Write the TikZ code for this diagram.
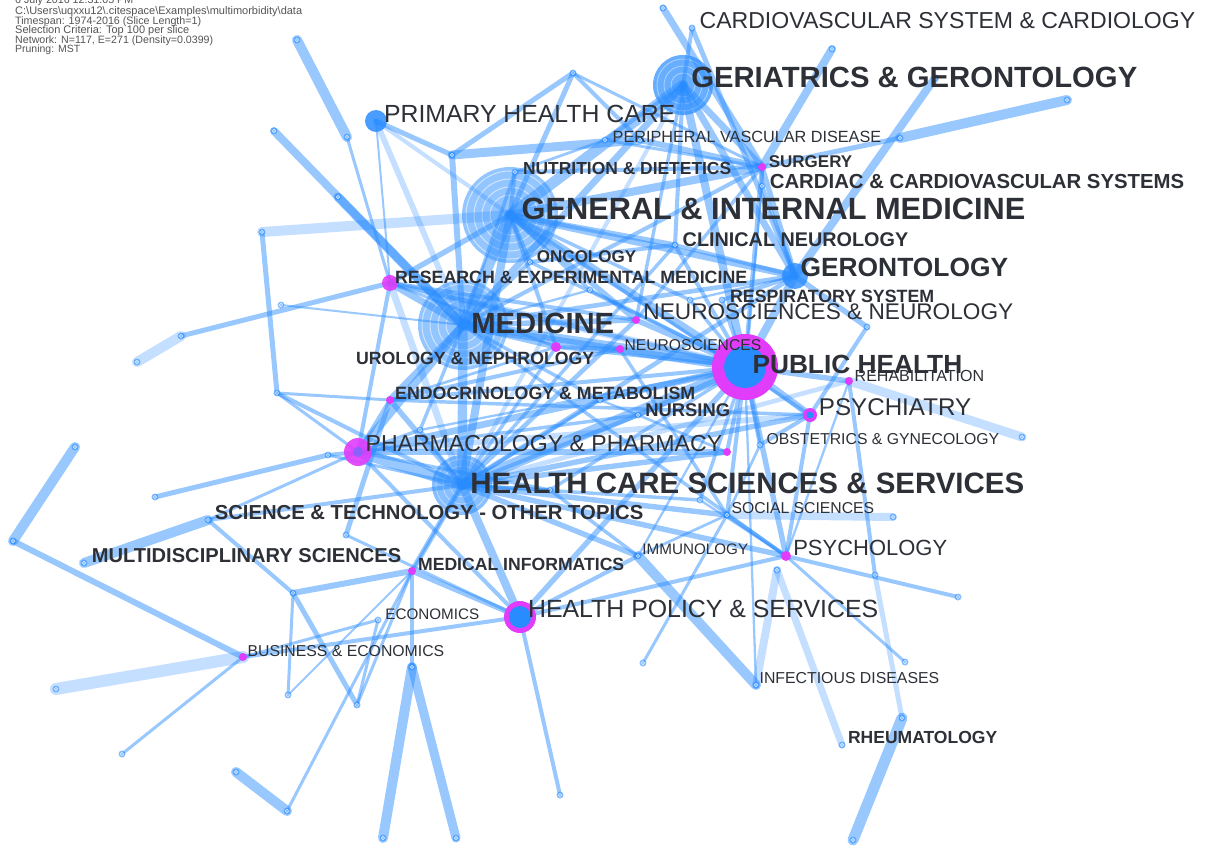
\documentclass[tikz,border=0pt]{standalone}
\usepackage{fontspec}
\setmainfont{Liberation Sans}
\usepackage{graphicx}
\definecolor{eb}{RGB}{40,140,255}
\definecolor{mg}{RGB}{225,60,250}
\definecolor{tx}{RGB}{45,48,54}
\definecolor{hd}{RGB}{85,85,85}
\def\ew{1}
\tikzset{
  edg/.style={draw=eb, line width=\ew*#1, draw opacity=0.47, line cap=round},
  edg/.default=3,
  ledg/.style={draw=eb, line width=\ew*#1, draw opacity=0.27, line cap=round},
  ledg/.default=3,
  lab/.style={anchor=west, inner sep=0pt, text=tx},
  hdr/.style={anchor=west, inner sep=0pt, text=hd},
}
\newcommand\E[3][3]{\draw[edg=#1] (#2) -- (#3);}
\newcommand\F[3][3]{\draw[ledg=#1] (#2) -- (#3);}
\newcommand\Lab[6]{\node[lab] (l#1) at (#2,#3) {\resizebox{#4pt}{!}{#5 #6}};}
\newcommand\Hdr[4]{\node[hdr] (#1) at (15,#2) {\resizebox{#3pt}{!}{#4}};}
\newcommand\Pt[1]{\fill[eb, opacity=0.55] (#1) circle (3.5); \draw[white, opacity=0.8, line width=0.6] (#1) circle (1.6);}
\begin{document}
\begin{tikzpicture}[x=1pt,y=-1pt]
\useasboundingbox (0,0) rectangle (1206,850);
\fill[white] (0,0) rectangle (1206,850);
% ---------- vertices ----------
\coordinate (GER) at (683,85);
\coordinate (GIM) at (510,215);
\coordinate (MED) at (463,325);
\coordinate (HCS) at (462,485);
\coordinate (PH) at (745,367);
\coordinate (HP) at (520,617);
\coordinate (PHA) at (358,452);
\coordinate (PHC) at (376,121);
\coordinate (GERO) at (795,276);
\coordinate (REM) at (390,283);
\coordinate (PSYT) at (810,415);
\coordinate (PSYG) at (786,556);
\coordinate (MI) at (412,571);
\coordinate (BE) at (243,657);
\coordinate (END) at (390,400);
\coordinate (SUR) at (762,167);
\coordinate (NN) at (636,320);
\coordinate (NEU) at (620,349);
\coordinate (URO) at (556,347);
\coordinate (REH) at (849,381);
\coordinate (MX) at (727,452);
\coordinate (SS) at (727,515);
\coordinate (IMM) at (638,556);
\coordinate (INF) at (756,685);
\coordinate (RHE) at (842,745);
\coordinate (SCI) at (208,520);
\coordinate (MUL) at (84,563);
\coordinate (ECO) at (378,620);
\coordinate (ONC) at (530,262);
\coordinate (NUT) at (515,172);
\coordinate (CN) at (675,245);
\coordinate (PVD) at (605,140);
\coordinate (CC) at (762,186);
\coordinate (RS) at (722,300);
\coordinate (OBS) at (760,445);
\coordinate (NUR) at (638,415);
\coordinate (CARD) at (692,28);
\coordinate (p1) at (297,40);
\coordinate (p2) at (347,137);
\coordinate (p3) at (274,131);
\coordinate (p4) at (338,197);
\coordinate (p5) at (262,232);
\coordinate (p6) at (277,393);
\coordinate (p7) at (137,362);
\coordinate (p8) at (181,336);
\coordinate (p9) at (281,305);
\coordinate (p10) at (75,447);
\coordinate (p11) at (13,541);
\coordinate (p12) at (155,497);
\coordinate (p13) at (328,455);
\coordinate (p14) at (293,593);
\coordinate (p15) at (288,695);
\coordinate (p16) at (357,705);
\coordinate (p17) at (56,689);
\coordinate (p18) at (122,754);
\coordinate (p19) at (236,772);
\coordinate (p20) at (287,811);
\coordinate (p21) at (412,667);
\coordinate (p22) at (383,838);
\coordinate (p23) at (456,838);
\coordinate (p24) at (560,795);
\coordinate (p25) at (643,663);
\coordinate (p26) at (958,597);
\coordinate (p27) at (905,662);
\coordinate (p28) at (777,570);
\coordinate (p29) at (902,718);
\coordinate (p30) at (853,840);
\coordinate (p31) at (893,517);
\coordinate (p31b) at (875,575);
\coordinate (p32) at (1022,437);
\coordinate (p33) at (1067,100);
\coordinate (dd) at (900,138);
\coordinate (p34) at (832,49);
\coordinate (p35) at (935,78);
\coordinate (p36) at (663,8);
\coordinate (aa) at (452,155);
\coordinate (bb) at (573,73);
\coordinate (q1) at (640,140);
\coordinate (n867) at (867,327);
\coordinate (p38) at (346,535);
\coordinate (c1) at (550,490);
\coordinate (c2) at (600,400);
\coordinate (c3) at (690,300);
\coordinate (c4) at (420,430);
\coordinate (c5) at (700,500);
\coordinate (c6) at (590,290);
% ---------- hubs (behind) ----------
\fill[eb, opacity=0.5] (GIM) circle (48);
\foreach \r in {44,36,28,20} \draw[white, opacity=0.55, line width=1] (GIM) circle (\r);
\fill[eb, opacity=0.5] (MED) circle (45);
\foreach \r in {41,33,25,17} \draw[white, opacity=0.55, line width=1] (MED) circle (\r);
\fill[eb, opacity=0.7] (GER) circle (30);
\foreach \r in {26,19,12} \draw[white, opacity=0.45, line width=0.8] (GER) circle (\r);
\fill[eb, opacity=0.55] (HCS) circle (30);
\foreach \r in {26,19,12} \draw[white, opacity=0.45, line width=0.8] (HCS) circle (\r);
% ---------- peripheral edges ----------
\E[10]{p1}{p2}
\E[3]{p2}{REM}
\E[8]{p3}{MED}
\E[9]{p4}{MED}
\F[10]{p5}{GIM}
\E[5]{p5}{p6}
\F[10]{p7}{p8}
\E[5]{p8}{REM}
\E[2]{p9}{MED}
\E[3]{p6}{END}
\E[3]{p6}{PHA}
\E[4]{p6}{HCS}
\E[10]{p10}{p11}
\E[6]{p11}{BE}
\E[5]{p12}{p13}
\E[4]{p13}{PHA}
\E[3]{p13}{HCS}
\E[10]{MUL}{SCI}
\E[4]{SCI}{p14}
\E[4]{SCI}{HCS}
\E[3]{SCI}{PHA}
\E[6]{p14}{MI}
\E[3]{p14}{p15}
\E[5]{p14}{p16}
\E[2]{p15}{MI}
\E[3]{p16}{MI}
\E[3]{p16}{ECO}
\F[12]{p17}{BE}
\E[3]{p18}{BE}
\E[10]{p19}{p20}
\E[3]{p20}{MI}
\E[4]{MI}{p21}
\E[10]{p21}{p22}
\E[9]{p21}{p23}
\E[4]{BE}{HP}
\E[3]{BE}{ECO}
\E[4]{HP}{p24}
\E[10]{IMM}{INF}
\F[8]{INF}{p28}
\E[3]{p25}{SS}
\E[4]{PSYG}{p26}
\E[3]{PSYG}{p27}
\F[7]{p28}{RHE}
\E[11]{p29}{p30}
\F[5]{p29}{p31b}
\E[4]{p31b}{REH}
\F[8]{SS}{p31}
\F[9]{REH}{p32}
\E[10]{p33}{dd}
\E[5]{dd}{SUR}
\E[8]{p34}{SUR}
\E[8]{p35}{GERO}
\E[7]{p36}{SUR}
\E[5]{CARD}{GERO}
\E[4]{CARD}{GER}
\E[9]{aa}{q1}
\E[6]{aa}{MED}
\E[5]{PHC}{aa}
\E[2]{PHC}{REM}
\F[4]{PHC}{GIM}
\E[5]{bb}{aa}
\E[5]{bb}{GIM}
\E[4]{bb}{q1}
\E[3]{bb}{SUR}
\E[6]{q1}{SUR}
\E[4]{PVD}{GER}
\E[3]{PVD}{SUR}
\E[5]{p38}{END}
\E[3]{p38}{HP}
% ---------- central edges (wider) ----------
\def\ew{1.35}
\E[8]{GIM}{MED}
\E[8]{GIM}{GER}
\E[6]{GIM}{PH}
\E[6]{GIM}{HCS}
\E[6]{GIM}{SUR}
\E[5]{GIM}{GERO}
\E[4]{GIM}{CN}
\E[3]{GIM}{NUT}
\E[3]{GIM}{ONC}
\E[4]{GIM}{REM}
\E[3]{GIM}{URO}
\E[4]{GIM}{NN}
\E[8]{MED}{PH}
\E[7]{MED}{HCS}
\E[5]{MED}{REM}
\E[5]{MED}{END}
\E[4]{MED}{URO}
\E[6]{MED}{PHA}
\E[4]{MED}{NN}
\E[4]{MED}{NEU}
\E[3]{MED}{ONC}
\E[3]{MED}{SUR}
\E[5]{MED}{GER}
\E[8]{HCS}{PH}
\E[8]{HCS}{PHA}
\E[6]{HCS}{HP}
\E[4]{HCS}{MI}
\E[4]{HCS}{SS}
\E[4]{HCS}{IMM}
\E[4]{HCS}{PSYG}
\E[4]{HCS}{MX}
\E[4]{HCS}{END}
\E[3]{HCS}{NUR}
\E[4]{HCS}{PSYT}
\E[6]{PH}{GER}
\E[6]{PH}{GERO}
\E[5]{PH}{PSYT}
\E[4]{PH}{PSYG}
\E[4]{PH}{NN}
\E[4]{PH}{NEU}
\E[4]{PH}{REH}
\E[3]{PH}{SS}
\E[3]{PH}{RS}
\E[3]{PH}{OBS}
\E[4]{PH}{NUR}
\E[3]{PH}{CN}
\E[3]{PH}{MX}
\E[5]{PH}{PHA}
\E[4]{PH}{HP}
\E[3]{PH}{END}
\E[3]{PH}{REM}
\E[5]{GER}{GERO}
\E[5]{GER}{SUR}
\E[3]{GER}{CN}
\F[3]{GER}{HCS}
\E[4]{GERO}{SUR}
\E[3]{GERO}{CC}
\E[3]{GERO}{RS}
\E[4]{GERO}{n867}
\E[3]{n867}{PSYT}
\E[3]{PSYT}{OBS}
\E[3]{PSYT}{PSYG}
\E[3]{PSYG}{SS}
\E[3]{PSYG}{HP}
\E[4]{HP}{MI}
\E[3]{HP}{PHA}
\E[3]{HP}{IMM}
\E[3]{PHA}{END}
\E[3]{PHA}{REM}
\E[4]{PHA}{MX}
\E[3]{REM}{NN}
\E[3]{END}{NEU}
\E[3]{URO}{NEU}
\E[3]{NUT}{SUR}
\E[3]{ONC}{CN}
\E[3]{CN}{GERO}
\E[3]{CC}{SUR}
\E[2]{REM}{URO}
\E[2]{END}{URO}
\E[2]{NUR}{MX}
\E[2]{IMM}{SS}
\E[2]{OBS}{SS}
\E[2]{PVD}{NUT}
% ---------- extra density ----------
\def\ew{1.15}
\E[4]{MED}{GERO}
\F[6]{REM}{PH}
\E[3]{URO}{PH}
\E[3]{END}{PSYT}
\F[5]{PHA}{PSYT}
\E[3]{PHA}{NUR}
\E[4]{HCS}{GERO}
\F[4]{HCS}{REH}
\E[3]{GIM}{PSYT}
\E[3]{MED}{PSYG}
\E[3]{NEU}{SS}
\E[4]{NN}{HCS}
\E[3]{CN}{HCS}
\E[3]{URO}{HCS}
\E[3]{GER}{NN}
\E[4]{SUR}{PH}
\E[3]{SUR}{NN}
\E[3]{NUT}{MED}
\E[3]{ONC}{PH}
\E[3]{c1}{HCS}
\E[3]{c1}{PH}
\E[3]{c1}{IMM}
\E[3]{c1}{PHA}
\E[3]{c2}{MED}
\E[3]{c2}{PH}
\E[3]{c2}{HCS}
\E[2]{c2}{NUR}
\E[3]{c3}{GIM}
\E[3]{c3}{PH}
\E[2]{c3}{GERO}
\E[3]{c4}{MED}
\E[3]{c4}{HCS}
\E[3]{c4}{PHA}
\E[2]{c4}{PH}
\E[3]{c5}{PH}
\E[3]{c5}{HCS}
\E[2]{c5}{PSYG}
\E[3]{c6}{GIM}
\E[3]{c6}{PH}
\E[2]{c6}{MED}
\F[6]{REM}{HCS}
\F[5]{PHC}{MED}
\E[2]{MI}{HCS}
\E[2]{IMM}{PH}
\E[2]{INF}{PH}
\E[2]{REH}{PSYG}
\E[2]{CC}{PH}
% ---------- minor node markers ----------
\foreach \n in {p1,p2,p3,p4,p5,p6,p7,p8,p9,p10,p11,p12,p13,p14,p15,p16,p17,p18,p19,p20,p21,p22,p23,p24,p25,p26,p27,p28,p29,p30,p31,p31b,p32,p33,dd,p34,p35,p36,aa,bb,q1,n867,p38,CARD,PVD,CN,ONC,NUT,CC,RS,OBS,NUR,SS,IMM,INF,RHE,SCI,MUL,ECO,c1,c2,c3,c4,c5,c6}{\Pt{\n}}
% ---------- coloured nodes ----------
\fill[mg] (PH) circle (33);
\fill[eb] (PH) circle (21);
\fill[mg] (HP) circle (16);
\fill[eb] (HP) circle (11);
\fill[mg, opacity=0.9] (PHA) circle (14);
\fill[eb, opacity=0.4] (PHA) circle (5);
\fill[eb, opacity=0.85] (PHC) circle (11);
\fill[eb, opacity=0.8] (GERO) circle (13);
\fill[mg] (PSYT) circle (7);
\fill[eb] (PSYT) circle (3.5);
\fill[mg, opacity=0.9] (REM) circle (8);
\foreach \n in {PSYG,URO}{\fill[mg] (\n) circle (5);}
\foreach \n in {END,NN,NEU,REH,MX,MI,BE,SUR}{\fill[mg] (\n) circle (4);}
% ---------- header ----------
\Hdr{h0}{1}{118}{6 July 2016 12:31:05 PM}
\Hdr{h1}{11.5}{287}{C:\textbackslash Users\textbackslash uqxxu12\textbackslash .citespace\textbackslash Examples\textbackslash multimorbidity\textbackslash data}
\Hdr{h2}{21.5}{186}{Timespan: 1974-2016 (Slice Length=1)}
\Hdr{h3}{31}{174}{Selection Criteria: Top 100 per slice}
\Hdr{h4}{40.5}{198}{Network: N=117, E=271 (Density=0.0399)}
\Hdr{h5}{50}{65}{Pruning: MST}
% ---------- labels ----------
\Lab{car}{693}{21}{502}{}{CARDIOVASCULAR SYSTEM \& CARDIOLOGY}
\Lab{ger}{683}{77}{454}{\bfseries}{GERIATRICS \& GERONTOLOGY}
\Lab{phc}{377}{114}{298}{}{PRIMARY HEALTH CARE}
\Lab{pvd}{608}{137}{273}{}{PERIPHERAL VASCULAR DISEASE}
\Lab{nut}{518}{169}{213}{\bfseries}{NUTRITION \& DIETETICS}
\Lab{sur}{764}{162}{88}{\bfseries}{SURGERY}
\Lab{cc}{764}{181}{420}{\bfseries}{CARDIAC \& CARDIOVASCULAR SYSTEMS}
\Lab{gim}{513}{209}{512}{\bfseries}{GENERAL \& INTERNAL MEDICINE}
\Lab{cn}{677}{240}{231}{\bfseries}{CLINICAL NEUROLOGY}
\Lab{onc}{532}{257}{104}{\bfseries}{ONCOLOGY}
\Lab{gero}{793}{267}{215}{\bfseries}{GERONTOLOGY}
\Lab{rem}{390}{277}{357}{\bfseries}{RESEARCH \& EXPERIMENTAL MEDICINE}
\Lab{rs}{725}{296}{209}{\bfseries}{RESPIRATORY SYSTEM}
\Lab{nn}{637}{312}{376}{}{NEUROSCIENCES \& NEUROLOGY}
\Lab{med}{463}{323}{151}{\bfseries}{MEDICINE}
\Lab{neu}{620}{345}{141}{}{NEUROSCIENCES}
\Lab{uro}{351}{358}{243}{\bfseries}{UROLOGY \& NEPHROLOGY}
\Lab{ph}{745}{364}{217}{\bfseries}{PUBLIC HEALTH}
\Lab{reh}{850}{376}{134}{}{REHABILITATION}
\Lab{end}{390}{393}{305}{\bfseries}{ENDOCRINOLOGY \& METABOLISM}
\Lab{nur}{640}{410}{90}{\bfseries}{NURSING}
\Lab{psyt}{812}{407}{159}{}{PSYCHIATRY}
\Lab{pha}{359}{444}{363}{}{PHARMACOLOGY \& PHARMACY}
\Lab{obs}{762}{439}{237}{}{OBSTETRICS \& GYNECOLOGY}
\Lab{hcs}{462}{483}{562}{\bfseries}{HEALTH CARE SCIENCES \& SERVICES}
\Lab{sci}{209}{513}{434}{\bfseries}{SCIENCE \& TECHNOLOGY - OTHER TOPICS}
\Lab{ss}{727}{508}{147}{}{SOCIAL SCIENCES}
\Lab{mul}{86}{556}{315}{\bfseries}{MULTIDISCIPLINARY SCIENCES}
\Lab{imm}{638}{549}{110}{}{IMMUNOLOGY}
\Lab{psyg}{787}{548}{160}{}{PSYCHOLOGY}
\Lab{mi}{413}{564}{211}{\bfseries}{MEDICAL INFORMATICS}
\Lab{hp}{521}{609}{357}{}{HEALTH POLICY \& SERVICES}
\Lab{eco}{381}{614}{98}{}{ECONOMICS}
\Lab{be}{243}{651}{201}{}{BUSINESS \& ECONOMICS}
\Lab{inf}{755}{678}{184}{}{INFECTIOUS DISEASES}
\Lab{rhe}{843}{737}{154}{\bfseries}{RHEUMATOLOGY}
\end{tikzpicture}
\end{document}
